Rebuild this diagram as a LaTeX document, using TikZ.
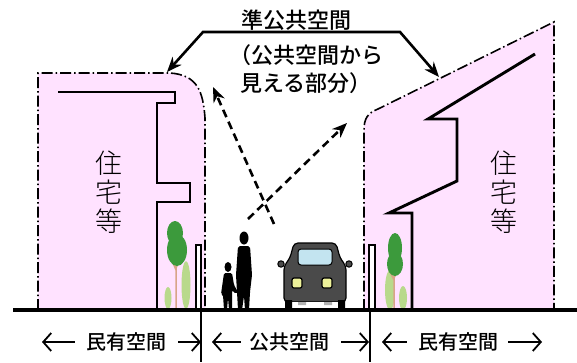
\documentclass[tikz,border=0pt]{standalone}
\usepackage{fontspec}
\usetikzlibrary{arrows.meta,positioning}
\IfFontExistsTF{Noto Sans CJK JP Medium}
  {\newfontfamily\jp{Noto Sans CJK JP Medium}}
  {\newfontfamily\jp{Noto Sans CJK JP}}
\IfFontExistsTF{Noto Sans CJK JP Light}
  {\newfontfamily\jplight{Noto Sans CJK JP Light}}
  {\newfontfamily\jplight{Noto Sans CJK JP}}
\definecolor{lotpink}{HTML}{FFE2FF}
\definecolor{leafD}{HTML}{3C9A3C}
\definecolor{leafL}{HTML}{B9D98C}
\definecolor{trunk}{HTML}{D8A488}
\definecolor{carbody}{HTML}{4A4A4A}
\definecolor{glass}{HTML}{C3E4F0}
\definecolor{lamp}{HTML}{EEF29A}
\tikzset{
  lotline/.style={line width=1.6pt, dash pattern=on 11pt off 3pt on 1.5pt off 3pt},
  wall/.style={line width=2.9pt, line join=miter},
  ground/.style={line width=3.3pt},
  divide/.style={line width=2pt},
  callarr/.style={{Stealth[length=15pt,width=12pt]}-{Stealth[length=15pt,width=12pt]}, line width=2.6pt},
  viewarr/.style={-{Stealth[length=15pt,width=12pt]}, line width=2.6pt, dash pattern=on 8pt off 5pt},
  lblarr/.style={-{Straight Barb[length=8pt,width=18pt,line width=1.8pt]}, line width=1.8pt},
  big/.style={font=\jp\fontsize{22}{28}\selectfont, inner sep=0pt},
  lab/.style={font=\jp\fontsize{20}{24}\selectfont, inner sep=2pt},
  house/.style={font=\jplight\fontsize{27}{29}\selectfont, align=center, inner sep=0pt},
}

\begin{document}
\begin{tikzpicture}[x=1pt,y=-1pt]
\useasboundingbox (0,0) rectangle (577,362);

% ===================== private lots (pink) ==================================
\fill[lotpink] (38,73) -- (170,73) .. controls (198,75) and (203,92) .. (205,118)
  -- (205,310) -- (38,310) -- cycle;
\draw[lotline] (38,310) -- (38,73) -- (170,73) .. controls (198,75) and (203,92) .. (205,118)
  -- (205,310);
\fill[lotpink] (364,310) -- (364,130) .. controls (364,118) and (368,113) .. (378,109)
  -- (554,22) -- (554,310) -- cycle;
\draw[lotline] (364,310) -- (364,130) .. controls (364,118) and (368,113) .. (378,109)
  -- (554,22) -- (554,310);

% house walls
\draw[wall] (58,92) -- (175,92) -- (175,103) -- (157,103) -- (157,183) -- (190,183)
  -- (190,202) -- (157,202) -- (157,310);
\draw[wall] (535,54) -- (428,119) -- (457,119) -- (457,181) -- (389,213) -- (412,213)
  -- (412,310);
\node[house] (houseL) at (109,192) {住\\宅\\等};
\node[house] (houseR) at (504,192) {住\\宅\\等};

% ===================== trees, fences ========================================
\fill[leafL] (186,285) ellipse (4.5 and 24);
\fill[leafL] (168,298) ellipse (3.5 and 11);
\draw[trunk, line width=1.5pt] (176,308) -- (176,262) (176,270) -- (171,258) (176,268) -- (181,257);
\fill[leafD] (175,233) ellipse (8 and 12);
\fill[leafD] (177,250) ellipse (10 and 16);

\fill[leafL] (390,290) ellipse (5 and 20);
\fill[leafL] (403,298) ellipse (4 and 12);
\draw[trunk, line width=1.5pt] (394,309) -- (394,270) (394,280) -- (389,270) (394,278) -- (399,268);
\fill[leafD] (395,248) ellipse (7 and 15);
\fill[leafD] (395,264) ellipse (8 and 12);

\filldraw[fill=white, line width=1.5pt] (196,310) rectangle (201,245);
\filldraw[fill=white, line width=1.5pt] (369,310) rectangle (375,245);

% ===================== pedestrians ==========================================
\fill (244,238) ellipse (4.5 and 6.5);
\fill[rounded corners=2pt] (238,246) -- (250,246) -- (252,275) -- (250,292) -- (249,310)
  -- (245,310) -- (244,296) -- (242,310) -- (238,310) -- (237,292) -- (236,275) -- cycle;
\fill (228,267) ellipse (3.5 and 5);
\fill[rounded corners=1.5pt] (224,273) -- (232,273) -- (234,285) -- (238,292) -- (236,294)
  -- (232,290) -- (232,310) -- (229,310) -- (228,298) -- (227,310) -- (224,310)
  -- (223,295) -- (221,294) -- cycle;

% ===================== car ==================================================
\filldraw[fill=carbody, line width=1pt] (281,264) circle (3.2) (349,264) circle (3.2);
\filldraw[fill=carbody, line width=1.2pt, rounded corners=4pt] (284,302) -- (284,266)
  -- (290,258) -- (294,243) -- (336,243) -- (340,258) -- (346,266) -- (346,302) -- cycle;
\filldraw[fill=glass, line width=1pt, rounded corners=3pt] (298,249) rectangle (332,265);
\filldraw[fill=lamp, line width=1.2pt, rounded corners=2pt] (292,278) rectangle (302,288);
\filldraw[fill=lamp, line width=1.2pt, rounded corners=2pt] (322,278) rectangle (332,288);
\fill[white] (292,302) rectangle (338,308);
\fill[gray!60] (298,302) rectangle (306,305) (324,302) rectangle (332,305);
\fill (285,300) rectangle (292,310) (338,300) rectangle (345,310);

% ===================== ground and boundaries ================================
\draw[ground] (13,310) -- (577,310);
\draw[divide] (201,310) -- (201,362);
\draw[divide] (370,310) -- (370,362);

% ===================== semi-public callout ==================================
\node[big] (semi) at (296,20) {準公共空間};
\node[big, align=center] (semiNote) at (306,69) {（公共空間から\\見える部分）};
\coordinate (kneeL) at (203,32);
\coordinate (kneeR) at (400,32);
\coordinate (tipL) at (167,72);
\coordinate (tipR) at (439,77);
\draw[callarr] (tipL) -- (kneeL) -- (kneeR) -- (tipR);

% lines of sight from the street
\coordinate (eyeA) at (274,224);
\coordinate (seeA) at (213,87);
\coordinate (eyeB) at (248,219);
\coordinate (seeB) at (347,123);
\draw[viewarr] (eyeA) -- (seeA);
\draw[viewarr] (eyeB) -- (seeB);

% ===================== bottom labels ========================================
\node[lab] (privL) at (126,342) {民有空間};
\node[lab] (pub) at (289,342) {公共空間};
\node[lab] (privR) at (458,342) {民有空間};
\coordinate (privLa) at (42,342);
\coordinate (privLb) at (201,342);
\coordinate (puba) at (212,342);
\coordinate (pubb) at (369,342);
\coordinate (privRa) at (382,342);
\coordinate (privRb) at (542,342);
\draw[lblarr] ([xshift=-9pt]privL.west) -- (privLa);
\draw[lblarr] ([xshift=10pt]privL.east) -- (privLb);
\draw[lblarr] ([xshift=-6pt]pub.west) -- (puba);
\draw[lblarr] ([xshift=10pt]pub.east) -- (pubb);
\draw[lblarr] ([xshift=-9pt]privR.west) -- (privRa);
\draw[lblarr] ([xshift=8pt]privR.east) -- (privRb);

\end{tikzpicture}
\end{document}
